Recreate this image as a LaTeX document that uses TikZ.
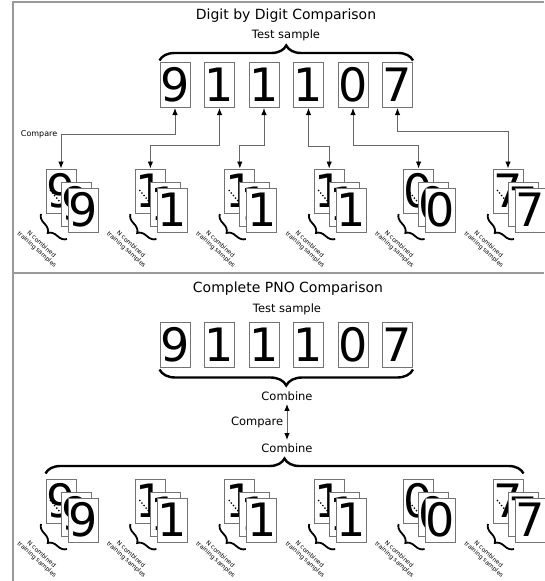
\documentclass[tikz,border=0pt]{standalone}
\usepackage{fontspec}
\setmainfont{DejaVu Sans}
\usetikzlibrary{arrows.meta,decorations.pathreplacing}

\tikzset{
  frame/.style={draw=black!40,line width=1.5pt},
  title/.style={font=\fontsize{14}{16}\selectfont},
  caption/.style={font=\fontsize{11.5}{13}\selectfont},
  digitbox/.style={draw=black!55,line width=1pt,minimum width=30pt,minimum height=45pt,
    inner sep=0pt,font=\fontsize{46}{46}\selectfont},
  card/.style={digitbox,fill=white,minimum height=44pt},
  link/.style={draw=black!60,line width=0.9pt},
  bigbrace/.style={decorate,decoration={brace,amplitude=15pt},line width=2.4pt},
  underbrace/.style={decorate,decoration={brace,mirror,amplitude=16pt},line width=2.4pt},
  stackbrace/.style={decorate,decoration={brace,mirror,amplitude=9pt},line width=1.8pt},
  stacknote/.style={rotate=-42,align=center,inner sep=0pt,font=\fontsize{6}{7}\selectfont}
}

% one pile of training cards, #1 name of back card, #2 digit, (#3,#4) top left corner
\newcommand{\samplestack}[4]{%
  \begin{scope}[shift={(#3,#4)}]
    \node[card] (#1) at (15,22) {#2};
    \draw[dotted,line width=1.3pt] (4,21) -- (14,33);
    \node[card] at (30,35) {#2};
    \node[card] at (37,41) {#2};
    \draw[stackbrace] (-5,45) -- (21,70);
    \node[stacknote] at (-7,78) {N combined\\training samples};
  \end{scope}}

\begin{document}
\begin{tikzpicture}[x=1pt,y=-1pt,>={Latex[black,length=7pt,width=5.5pt]}]
\useasboundingbox (0,0) rectangle (544,581);

\draw[frame] (544,2) -- (13,2) -- (13,581);
\draw[frame] (13,273) -- (544,273);

% digit by digit
\node[title] (title1) at (286,16) {Digit by Digit Comparison};
\node[caption] (test1) at (286,35) {Test sample};
\node[digitbox] (t1) at (175,85) {9};
\node[digitbox] (t2) at (219.5,85) {1};
\node[digitbox] (t3) at (264,85) {1};
\node[digitbox] (t4) at (308.5,85) {1};
\node[digitbox] (t5) at (353,85) {0};
\node[digitbox] (t6) at (397.5,85) {7};
\draw[bigbrace] ([yshift=1.5pt]t1.north west) -- ([yshift=1.5pt]t6.north east);

\samplestack{c1}{9}{46}{169}
\samplestack{c2}{1}{135.4}{169}
\samplestack{c3}{1}{224.8}{169}
\samplestack{c4}{1}{314.2}{169}
\samplestack{c5}{0}{403.6}{169}
\samplestack{c6}{7}{493}{169}

\draw[link,<->] (t1.south) -- ++(0,26) -| node[pos=0.5,left,font=\fontsize{8}{9}\selectfont] {Compare} (c1.north);
\draw[link,<->] (t2.south) -- ++(0,37.5) -| (c2.north);
\draw[link,<->] (t3.south) -- ++(0,37.5) -| (c3.north);
\draw[link,<->] (t4.south) -- ++(0,38) -| (c4.north);
\draw[link,<->] (t5.south) -- ++(0,37.5) -| (c5.north);
\draw[link,<->] (t6.south) -- ++(0,23) -| (c6.north);

% complete PNO
\node[title] (title2) at (288,289) {Complete PNO Comparison};
\node[caption] (test2) at (287,309) {Test sample};
\node[digitbox] (b1) at (175,344.5) {9};
\node[digitbox] (b2) at (219.5,344.5) {1};
\node[digitbox] (b3) at (264,344.5) {1};
\node[digitbox] (b4) at (308.5,344.5) {1};
\node[digitbox] (b5) at (353,344.5) {0};
\node[digitbox] (b6) at (397.5,344.5) {7};
\draw[underbrace] ([yshift=-2pt]b1.south west) -- ([yshift=-2pt]b6.south east);

\node[caption] (comb1) at (287,396) {Combine};
\node[caption] (comb2) at (287,448) {Combine};
\draw[link,<->] (comb1) -- node[left,caption] {Compare} (comb2);

\samplestack{d1}{9}{46}{479}
\samplestack{d2}{1}{135.4}{479}
\samplestack{d3}{1}{224.8}{479}
\samplestack{d4}{1}{314.2}{479}
\samplestack{d5}{0}{403.6}{479}
\samplestack{d6}{7}{493}{479}
\draw[bigbrace] ([yshift=5pt]d1.north west) -- ([yshift=5pt]d6.north east);

\end{tikzpicture}
\end{document}
